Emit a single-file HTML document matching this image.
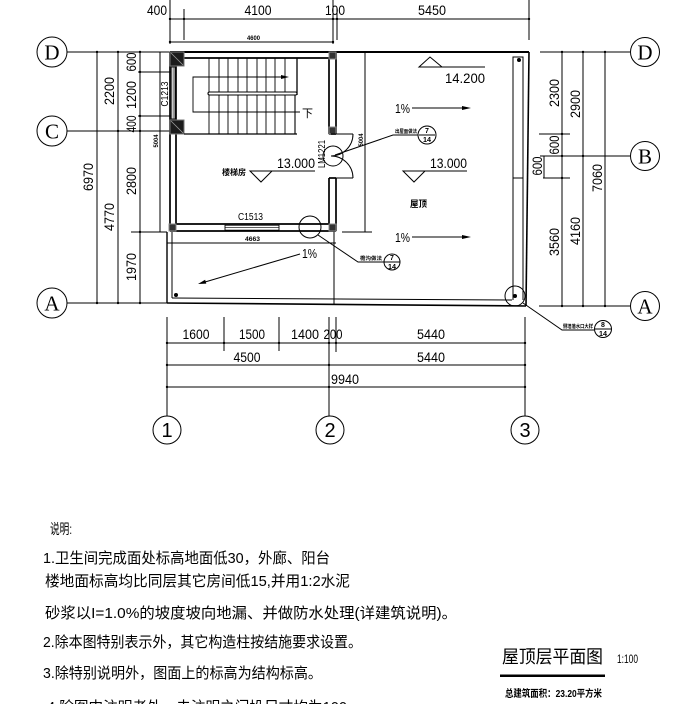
<!DOCTYPE html>
<html><head><meta charset="utf-8"><style>
html,body{margin:0;padding:0;background:#fff;}
svg{display:block;}
text{font-family:"Liberation Sans","Noto Sans CJK SC",sans-serif;fill:#000;}
.cj{font-family:"Liberation Sans","Noto Sans CJK SC",sans-serif;}
.ser{font-family:"Liberation Serif","DejaVu Serif",serif;}
</style></head><body>
<svg width="674" height="704" viewBox="0 0 674 704" xmlns="http://www.w3.org/2000/svg">
<rect width="674" height="704" fill="#fff"/>

<!-- ================= DIMENSION LINES ================= -->
<g stroke="#000" stroke-width="1" fill="none">
  <line x1="170" y1="19" x2="529" y2="19"/>
  <line x1="170" y1="0" x2="170" y2="44"/>
  <line x1="184" y1="9" x2="184" y2="40"/>
  <line x1="333" y1="0" x2="333" y2="44"/>
  <line x1="337" y1="8" x2="337" y2="40"/>
  <line x1="529" y1="0" x2="529" y2="40"/>
  <line x1="170" y1="42" x2="333" y2="42"/>

  <line x1="67" y1="52" x2="170" y2="52"/>
  <line x1="67" y1="131" x2="170" y2="131"/>
  <line x1="67" y1="303" x2="167" y2="303"/>
  <line x1="97" y1="52" x2="97" y2="303"/>
  <line x1="118" y1="52" x2="118" y2="303"/>
  <line x1="140" y1="52" x2="140" y2="303"/>
  <line x1="138" y1="72" x2="172" y2="72"/>
  <line x1="138" y1="116" x2="172" y2="116"/>
  <line x1="131" y1="232" x2="167" y2="232"/>
  <line x1="160" y1="52" x2="160" y2="232"/>

  <line x1="540" y1="52" x2="630" y2="52"/>
  <line x1="540" y1="156" x2="630" y2="156"/>
  <line x1="539" y1="306" x2="630" y2="306"/>
  <line x1="562" y1="52" x2="562" y2="306"/>
  <line x1="583" y1="52" x2="583" y2="306"/>
  <line x1="605" y1="52" x2="605" y2="306"/>
  <line x1="539" y1="134" x2="570" y2="134"/>
  <line x1="543" y1="178" x2="570" y2="178"/>
  <line x1="544" y1="156" x2="544" y2="178"/>

  <line x1="167" y1="317" x2="167" y2="416"/>
  <line x1="224" y1="317" x2="224" y2="351"/>
  <line x1="279" y1="317" x2="279" y2="351"/>
  <line x1="329" y1="317" x2="329" y2="416"/>
  <line x1="336" y1="317" x2="336" y2="352"/>
  <line x1="525" y1="317" x2="525" y2="416"/>
  <line x1="167" y1="343" x2="525" y2="343"/>
  <line x1="167" y1="365" x2="525" y2="365"/>
  <line x1="167" y1="387" x2="525" y2="387"/>

  <circle cx="52" cy="52" r="15"/>
  <circle cx="52" cy="131" r="15"/>
  <circle cx="52" cy="303" r="15"/>
  <circle cx="645" cy="52" r="14.5"/>
  <circle cx="645" cy="156" r="14.5"/>
  <circle cx="645" cy="306" r="14.5"/>
  <circle cx="167" cy="430" r="14"/>
  <circle cx="330" cy="430" r="14"/>
  <circle cx="525" cy="430" r="14"/>
</g>

<g fill="#000">
  <circle cx="170" cy="19" r="1.2"/><circle cx="184" cy="19" r="1.2"/><circle cx="333" cy="19" r="1.2"/><circle cx="337" cy="19" r="1.2"/><circle cx="529" cy="19" r="1.2"/>
  <circle cx="170" cy="42" r="1.2"/><circle cx="333" cy="42" r="1.2"/>
  <circle cx="97" cy="52" r="1.2"/><circle cx="97" cy="303" r="1.2"/>
  <circle cx="118" cy="52" r="1.2"/><circle cx="118" cy="131" r="1.2"/><circle cx="118" cy="303" r="1.2"/>
  <circle cx="140" cy="52" r="1.2"/><circle cx="140" cy="72" r="1.2"/><circle cx="140" cy="116" r="1.2"/><circle cx="140" cy="131" r="1.2"/><circle cx="140" cy="232" r="1.2"/><circle cx="140" cy="303" r="1.2"/>
  <circle cx="562" cy="52" r="1.2"/><circle cx="562" cy="134" r="1.2"/><circle cx="562" cy="156" r="1.2"/><circle cx="562" cy="178" r="1.2"/><circle cx="562" cy="306" r="1.2"/>
  <circle cx="583" cy="52" r="1.2"/><circle cx="583" cy="156" r="1.2"/><circle cx="583" cy="306" r="1.2"/>
  <circle cx="605" cy="52" r="1.2"/><circle cx="605" cy="306" r="1.2"/>
  <circle cx="167" cy="343" r="1.2"/><circle cx="224" cy="343" r="1.2"/><circle cx="279" cy="343" r="1.2"/><circle cx="329" cy="343" r="1.2"/><circle cx="336" cy="343" r="1.2"/><circle cx="525" cy="343" r="1.2"/>
  <circle cx="167" cy="365" r="1.2"/><circle cx="329" cy="365" r="1.2"/><circle cx="525" cy="365" r="1.2"/>
  <circle cx="167" cy="387" r="1.2"/><circle cx="329" cy="387" r="1.2"/><circle cx="525" cy="387" r="1.2"/>
</g>

<g font-size="14">
  <text x="157" y="15" text-anchor="middle" textLength="20" lengthAdjust="spacingAndGlyphs">400</text>
  <text x="258" y="15" text-anchor="middle" textLength="27" lengthAdjust="spacingAndGlyphs">4100</text>
  <text x="335" y="15" text-anchor="middle" textLength="20" lengthAdjust="spacingAndGlyphs">100</text>
  <text x="432" y="15" text-anchor="middle" textLength="28" lengthAdjust="spacingAndGlyphs">5450</text>

  <text transform="translate(93,177) rotate(-90)" text-anchor="middle" textLength="28" lengthAdjust="spacingAndGlyphs">6970</text>
  <text transform="translate(114,91) rotate(-90)" text-anchor="middle" textLength="28" lengthAdjust="spacingAndGlyphs">2200</text>
  <text transform="translate(114,217) rotate(-90)" text-anchor="middle" textLength="28" lengthAdjust="spacingAndGlyphs">4770</text>
  <text transform="translate(136,62) rotate(-90)" text-anchor="middle" textLength="19" lengthAdjust="spacingAndGlyphs">600</text>
  <text transform="translate(136,95) rotate(-90)" text-anchor="middle" textLength="28" lengthAdjust="spacingAndGlyphs">1200</text>
  <text transform="translate(136,124) rotate(-90)" text-anchor="middle" textLength="17" lengthAdjust="spacingAndGlyphs">400</text>
  <text transform="translate(136,181) rotate(-90)" text-anchor="middle" textLength="28" lengthAdjust="spacingAndGlyphs">2800</text>
  <text transform="translate(136,267) rotate(-90)" text-anchor="middle" textLength="28" lengthAdjust="spacingAndGlyphs">1970</text>

  <text transform="translate(559,93) rotate(-90)" text-anchor="middle" textLength="28" lengthAdjust="spacingAndGlyphs">2300</text>
  <text transform="translate(559,145) rotate(-90)" text-anchor="middle" textLength="19" lengthAdjust="spacingAndGlyphs">600</text>
  <text transform="translate(542,166) rotate(-90)" text-anchor="middle" textLength="19" lengthAdjust="spacingAndGlyphs">600</text>
  <text transform="translate(559,242) rotate(-90)" text-anchor="middle" textLength="28" lengthAdjust="spacingAndGlyphs">3560</text>
  <text transform="translate(580,104) rotate(-90)" text-anchor="middle" textLength="28" lengthAdjust="spacingAndGlyphs">2900</text>
  <text transform="translate(580,231) rotate(-90)" text-anchor="middle" textLength="28" lengthAdjust="spacingAndGlyphs">4160</text>
  <text transform="translate(602,178) rotate(-90)" text-anchor="middle" textLength="28" lengthAdjust="spacingAndGlyphs">7060</text>

  <text x="196" y="339" text-anchor="middle" textLength="27" lengthAdjust="spacingAndGlyphs">1600</text>
  <text x="252" y="339" text-anchor="middle" textLength="26" lengthAdjust="spacingAndGlyphs">1500</text>
  <text x="305" y="339" text-anchor="middle" textLength="28" lengthAdjust="spacingAndGlyphs">1400</text>
  <text x="333" y="339" text-anchor="middle" textLength="19" lengthAdjust="spacingAndGlyphs">200</text>
  <text x="431" y="339" text-anchor="middle" textLength="28" lengthAdjust="spacingAndGlyphs">5440</text>
  <text x="247" y="362" text-anchor="middle" textLength="27" lengthAdjust="spacingAndGlyphs">4500</text>
  <text x="431" y="362" text-anchor="middle" textLength="28" lengthAdjust="spacingAndGlyphs">5440</text>
  <text x="331" y="384" textLength="28" lengthAdjust="spacingAndGlyphs">9940</text>
</g>

<g font-size="21" text-anchor="middle" class="ser">
  <text x="52" y="59.5" class="ser">D</text>
  <text x="52" y="138.5" class="ser">C</text>
  <text x="52" y="310.5" class="ser">A</text>
  <text x="645" y="59.5" class="ser">D</text>
  <text x="645" y="163.5" class="ser">B</text>
  <text x="645" y="313.5" class="ser">A</text>
</g>
<g font-size="20" text-anchor="middle">
  <text x="167" y="437">1</text>
  <text x="330" y="437">2</text>
  <text x="525" y="437">3</text>
</g>

<!-- ================= BUILDING ================= -->
<g stroke="#000" fill="none">
  <line x1="170" y1="52" x2="529" y2="52" stroke-width="2"/>
  <line x1="529" y1="52" x2="526" y2="306" stroke-width="1.6"/>
  <line x1="167" y1="303" x2="526" y2="306" stroke-width="1.6"/>
  <line x1="167" y1="232" x2="167" y2="303" stroke-width="1.4"/>
  <line x1="172" y1="232" x2="172" y2="298" stroke-width="1"/>
  <line x1="172" y1="298" x2="512" y2="300" stroke-width="1"/>
  <polyline points="513,300 513,57 523,57 523,300" stroke-width="1"/>
  <line x1="513" y1="178" x2="523" y2="178" stroke-width="1"/>
  <line x1="167" y1="243" x2="336" y2="243" stroke-width="1"/>
  <line x1="334" y1="231" x2="334" y2="304" stroke-width="1"/>
  <line x1="365" y1="52" x2="365" y2="232" stroke-width="1"/>
  <line x1="342" y1="232" x2="372" y2="232" stroke-width="1"/>
</g>

<g stroke="#000" fill="none" stroke-width="1.7">
  <line x1="176" y1="58" x2="329" y2="58"/>
  <line x1="170" y1="52" x2="170" y2="231"/>
  <line x1="176" y1="58" x2="176" y2="224"/>
  <line x1="336" y1="52" x2="336" y2="134"/>
  <line x1="329" y1="58" x2="329" y2="134"/>
  <line x1="336" y1="178" x2="336" y2="231"/>
  <line x1="329" y1="178" x2="329" y2="224"/>
  <line x1="329" y1="134" x2="336" y2="134"/>
  <line x1="329" y1="178" x2="336" y2="178"/>
  <line x1="170" y1="231" x2="336" y2="231"/>
  <line x1="176" y1="224" x2="329" y2="224"/>
</g>
<rect x="171.2" y="67" width="3.8" height="52" fill="#fff" stroke="#000" stroke-width="0.9"/>
<line x1="173.1" y1="67" x2="173.1" y2="119" stroke="#000" stroke-width="0.6"/>
<rect x="225" y="225.2" width="54" height="5" fill="#fff" stroke="#000" stroke-width="0.9"/>
<line x1="225" y1="227.7" x2="279" y2="227.7" stroke="#000" stroke-width="0.6"/>

<g>
  <rect x="170" y="52" width="14" height="14" fill="#1c1c1c" stroke="#777" stroke-width="1"/>
  <line x1="171" y1="53" x2="183" y2="65" stroke="#999" stroke-width="0.8"/>
  <rect x="170" y="120" width="14" height="14" fill="#1c1c1c" stroke="#777" stroke-width="1"/>
  <line x1="171" y1="121" x2="183" y2="133" stroke="#999" stroke-width="0.8"/>
  <rect x="329" y="52" width="7" height="7" fill="#333" stroke="#888" stroke-width="1"/>
  <rect x="329" y="127" width="7" height="7" fill="#333" stroke="#888" stroke-width="1"/>
  <rect x="329" y="224" width="7" height="7" fill="#333" stroke="#888" stroke-width="1"/>
  <rect x="169" y="224" width="7" height="7" fill="#333" stroke="#888" stroke-width="1"/>
</g>

<g stroke="#000" stroke-width="0.9" fill="none">
  <line x1="209" y1="58" x2="209" y2="134"/>
  <line x1="219" y1="58" x2="219" y2="134"/>
  <line x1="228" y1="58" x2="228" y2="134"/>
  <line x1="238" y1="58" x2="238" y2="134"/>
  <line x1="247" y1="58" x2="247" y2="134"/>
  <line x1="257" y1="58" x2="257" y2="134"/>
  <line x1="266" y1="58" x2="266" y2="134"/>
  <line x1="275" y1="58" x2="275" y2="134"/>
  <line x1="285" y1="58" x2="285" y2="134"/>
  <line x1="297" y1="58" x2="297" y2="95" stroke-width="1.3"/>
  <line x1="295" y1="95" x2="295" y2="134" stroke-width="1.1"/>
  <line x1="184" y1="134" x2="297" y2="134" stroke-width="1.3"/>
  <rect x="208" y="92" width="89" height="3" rx="1.5" fill="#fff" stroke-width="1.1"/>
  <polyline points="283,77 193,77 193,112 300,112" stroke-width="0.9"/>
</g>
<polygon points="289,77 281,75 281,79" fill="#000"/>
<text x="302" y="117" font-size="11" class="cj">下</text>

<g stroke="#000" stroke-width="1" fill="none">
  <line x1="331" y1="134" x2="353" y2="134"/>
  <path d="M353,134 A22,22 0 0 1 331,156"/>
  <line x1="331" y1="178" x2="353" y2="178"/>
  <path d="M353,178 A22,22 0 0 0 331,156"/>
</g>

<text transform="translate(168,94) rotate(-90)" font-size="10" text-anchor="middle" textLength="25" lengthAdjust="spacingAndGlyphs">C1213</text>
<text transform="translate(325,154) rotate(-90)" font-size="10" text-anchor="middle" textLength="28" lengthAdjust="spacingAndGlyphs">LM1221</text>
<text x="238" y="220" font-size="10" textLength="25" lengthAdjust="spacingAndGlyphs">C1513</text>
<text x="245" y="241" font-size="6" font-weight="bold" textLength="15" lengthAdjust="spacingAndGlyphs">4663</text>
<text x="247" y="40" font-size="6" font-weight="bold" textLength="13" lengthAdjust="spacingAndGlyphs">4600</text>
<text transform="translate(158,141) rotate(-90)" font-size="6" font-weight="bold" text-anchor="middle" textLength="13" lengthAdjust="spacingAndGlyphs">5004</text>
<text transform="translate(363,140) rotate(-90)" font-size="6" font-weight="bold" text-anchor="middle" textLength="13" lengthAdjust="spacingAndGlyphs">5004</text>

<text x="222" y="175" font-size="8" font-weight="bold" class="cj" textLength="24" lengthAdjust="spacingAndGlyphs">楼梯房</text>
<text x="410" y="207" font-size="9" font-weight="bold" class="cj" textLength="17" lengthAdjust="spacingAndGlyphs">屋顶</text>

<g stroke="#000" stroke-width="1" fill="none">
  <polyline points="315,171 250,171 261,182 272,171"/>
  <polyline points="467,171 403,171 414,182 425,171"/>
  <polyline points="485,67 419,67 430,57 442,67"/>
</g>
<g font-size="14">
  <text x="277" y="168" textLength="38" lengthAdjust="spacingAndGlyphs">13.000</text>
  <text x="430" y="168" textLength="37" lengthAdjust="spacingAndGlyphs">13.000</text>
  <text x="445" y="83" textLength="40" lengthAdjust="spacingAndGlyphs">14.200</text>
</g>

<g stroke="#000" stroke-width="1">
  <line x1="412" y1="108" x2="464" y2="108"/>
  <line x1="412" y1="237" x2="464" y2="237"/>
  <line x1="300" y1="254" x2="205" y2="282"/>
</g>
<g fill="#000">
  <polygon points="471,108 462,106 462,110"/>
  <polygon points="471,237 462,235 462,239"/>
  <polygon points="198,284 206.3,283.6 205.1,279.8"/>
</g>
<g font-size="13">
  <text x="395" y="113" textLength="15" lengthAdjust="spacingAndGlyphs">1%</text>
  <text x="395" y="242" textLength="15" lengthAdjust="spacingAndGlyphs">1%</text>
  <text x="302" y="258" textLength="15" lengthAdjust="spacingAndGlyphs">1%</text>
</g>

<g fill="#000">
  <circle cx="176" cy="295" r="2"/>
  <circle cx="519" cy="60" r="2"/>
  <circle cx="515" cy="296" r="2"/>
</g>

<g stroke="#000" stroke-width="1" fill="none">
  <circle cx="333" cy="156" r="10"/>
  <polyline points="335,155 393,135 418,135"/>
  <circle cx="427" cy="135" r="9"/>
  <line x1="419" y1="135" x2="435" y2="135"/>

  <circle cx="310" cy="227" r="11"/>
  <polyline points="318,235 358,262 384,262"/>
  <circle cx="392" cy="262" r="8"/>
  <line x1="384" y1="262" x2="400" y2="262"/>

  <circle cx="515" cy="296" r="10"/>
  <polyline points="523,303 562,330 594,330"/>
  <circle cx="603" cy="329" r="8.5"/>
  <line x1="595" y1="329" x2="611" y2="329"/>
</g>
<g font-size="7" font-weight="bold" text-anchor="middle">
  <text x="427" y="133">7</text>
  <text x="427" y="142" textLength="8" lengthAdjust="spacingAndGlyphs">14</text>
  <text x="392" y="260">7</text>
  <text x="392" y="269" textLength="8" lengthAdjust="spacingAndGlyphs">14</text>
  <text x="603" y="327">8</text>
  <text x="603" y="336" textLength="8" lengthAdjust="spacingAndGlyphs">14</text>
</g>
<g font-size="5" font-weight="bold" class="cj">
  <text x="395" y="133" textLength="22" lengthAdjust="spacingAndGlyphs">出屋面做法</text>
  <text x="360" y="260" textLength="22" lengthAdjust="spacingAndGlyphs">檐沟做法</text>
  <text x="563" y="328" textLength="30" lengthAdjust="spacingAndGlyphs">侧墙落水口大样</text>
</g>

<!-- ================= NOTES ================= -->
<g class="cj" font-size="15">
  <text x="50" y="534" font-size="14" textLength="22" lengthAdjust="spacingAndGlyphs">说明:</text>
  <text x="43" y="563" textLength="287" lengthAdjust="spacingAndGlyphs">1.卫生间完成面处标高地面低30，外廊、阳台</text>
  <text x="45" y="586" textLength="305" lengthAdjust="spacingAndGlyphs">楼地面标高均比同层其它房间低15,并用1:2水泥</text>
  <text x="45" y="618" textLength="412" lengthAdjust="spacingAndGlyphs">砂浆以I=1.0%的坡度坡向地漏、并做防水处理(详建筑说明)。</text>
  <text x="43" y="647" textLength="319" lengthAdjust="spacingAndGlyphs">2.除本图特别表示外，其它构造柱按结施要求设置。</text>
  <text x="43" y="678" textLength="279" lengthAdjust="spacingAndGlyphs">3.除特别说明外，图面上的标高为结构标高。</text>
  <text x="47" y="712" textLength="300" lengthAdjust="spacingAndGlyphs">4.除图中注明者外，未注明之门垛尺寸均为100</text>
</g>

<!-- ================= TITLE ================= -->
<text x="502" y="663" font-size="18" class="cj" textLength="101" lengthAdjust="spacingAndGlyphs">屋顶层平面图</text>
<rect x="500" y="674.5" width="105" height="2.5" fill="#000"/>
<text x="617" y="663" font-size="12" textLength="21" lengthAdjust="spacingAndGlyphs">1:100</text>
<text x="505" y="697" font-size="10" font-weight="bold" class="cj" textLength="97" lengthAdjust="spacingAndGlyphs">总建筑面积：23.20平方米</text>

</svg>
</body></html>
